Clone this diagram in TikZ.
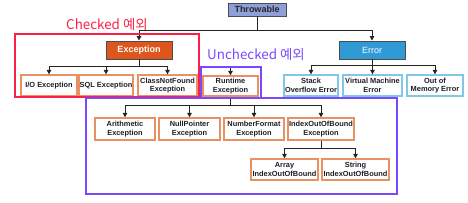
\documentclass[tikz,border=0pt]{standalone}
\usepackage{fontspec}
\setmainfont{Liberation Sans}
\newfontfamily\krfont{Noto Sans CJK KR}
\usetikzlibrary{arrows.meta}
\definecolor{redc}{RGB}{250,32,72}
\definecolor{purc}{RGB}{122,72,255}
\definecolor{excfill}{RGB}{222,86,30}
\definecolor{errfill}{RGB}{48,154,212}
\definecolor{thrfill}{RGB}{142,160,218}
\definecolor{orb}{RGB}{232,146,100}
\definecolor{blb}{RGB}{130,200,230}
\definecolor{txt}{RGB}{30,30,38}
\definecolor{con}{RGB}{35,35,35}
\tikzset{
  topbox/.style={draw=black!70, line width=0.9pt, text=white, font=\fontsize{9}{10}\selectfont\bfseries,
    inner sep=0pt, align=center},
  exbox/.style={draw=orb, line width=1.3pt, fill=white, text=txt, font=\fontsize{7.4}{8.4}\selectfont\bfseries,
    inner sep=0pt, align=center, minimum height=21pt},
  erbox/.style={draw=blb, line width=1.3pt, fill=white, text=txt, font=\fontsize{7.4}{8.4}\selectfont\bfseries,
    inner sep=0pt, align=center, minimum height=21pt},
  conn/.style={draw=con, line width=1pt},
  arr/.style={conn, -{Triangle[length=4.5pt,width=4.5pt]}},
  heading/.style={font=\krfont\fontsize{13.4}{14}\selectfont, inner sep=0pt, anchor=west}
}
\begin{document}
\begin{tikzpicture}[x=1pt,y=-1pt]
\useasboundingbox (0,0) rectangle (468,202);
% top level
\node[topbox, fill=thrfill, text=black!85, minimum width=58pt, minimum height=13pt] (thr) at (257,9.5) {Throwable};
\node[topbox, fill=excfill, minimum width=66pt, minimum height=18pt] (exc) at (139,50) {Exception};
\node[topbox, fill=errfill, font=\fontsize{9}{10}\selectfont, minimum width=66pt, minimum height=18pt] (err) at (372,50) {Error};
% exception children
\node[exbox, minimum width=56pt] (io) at (49,85.5) {I/O Exception};
\node[exbox, minimum width=54pt] (sql) at (106,85.5) {SQL Exception};
\node[exbox, minimum width=59pt] (cnf) at (167.5,85.5) {ClassNotFound\\Exception};
\node[exbox, minimum width=55pt, minimum height=20pt] (rt) at (230.5,86) {Runtime\\Exception};
% error children
\node[erbox, minimum width=54pt] (so) at (311,85.5) {Stack\\Overflow Error};
\node[erbox, minimum width=59pt] (vm) at (372.5,85.5) {Virtual Machine\\Error};
\node[erbox, minimum width=56pt] (om) at (435,85.5) {Out of\\Memory Error};
% runtime children
\node[exbox, minimum width=60pt, minimum height=22pt] (ar) at (125,129) {Arithmetic\\Exception};
\node[exbox, minimum width=61pt, minimum height=22pt] (np) at (189.5,129) {NullPointer\\Exception};
\node[exbox, minimum width=60pt, minimum height=22pt] (nf) at (254,129) {NumberFormat\\Exception};
\node[exbox, minimum width=66pt, minimum height=22pt] (ib) at (321,129) {IndexOutOfBound\\Exception};
% index children
\node[exbox, minimum width=67pt] (aib) at (284.5,169.5) {Array\\IndexOutOfBound};
\node[exbox, minimum width=67pt] (sib) at (355.5,169.5) {String\\IndexOutOfBound};
% connectors
\coordinate (t1) at (257,30);
\draw[conn] (thr.south) -- (t1);
\draw[arr] (t1) -| (exc.north);
\draw[arr] (t1) -| (err.north);
\coordinate (e1) at (139,66);
\draw[conn] (exc.south) -- (e1);
\draw[arr] (e1) -| (io.north);
\draw[arr] (e1) -| (sql.north);
\draw[arr] (e1) -| (cnf.north);
\coordinate (r0) at (230.5,67);
\draw[arr] (r0) -- (rt.north);
\coordinate (r1) at (230.5,105);
\draw[conn] (rt.south) -- (r1);
\draw[arr] (r1) -| (ar.north);
\draw[arr] (r1) -| (np.north);
\draw[arr] (r1) -| (nf.north);
\draw[arr] (r1) -| (ib.north);
\coordinate (i1) at (321,148);
\draw[conn] (ib.south) -- (i1);
\draw[arr] (i1) -| (aib.north);
\draw[arr] (i1) -| (sib.north);
\coordinate (er1) at (372,65);
\draw[conn] (err.south) -- (er1);
\draw[arr] (er1) -| (so.north);
\draw[arr] (er1) -| (vm.north);
\draw[arr] (er1) -| (om.north);
% groups
\draw[redc, line width=2pt] (15,34) rectangle (199,97);
\draw[purc, line width=2pt] (201,67) rectangle (261,98);
\draw[purc, line width=2pt] (86,98) rectangle (397,194);
\node[heading, text=redc] (chk) at (66,24) {Checked 예외};
\node[heading, text=purc] (unchk) at (207,54) {Unchecked 예외};
\end{tikzpicture}
\end{document}
